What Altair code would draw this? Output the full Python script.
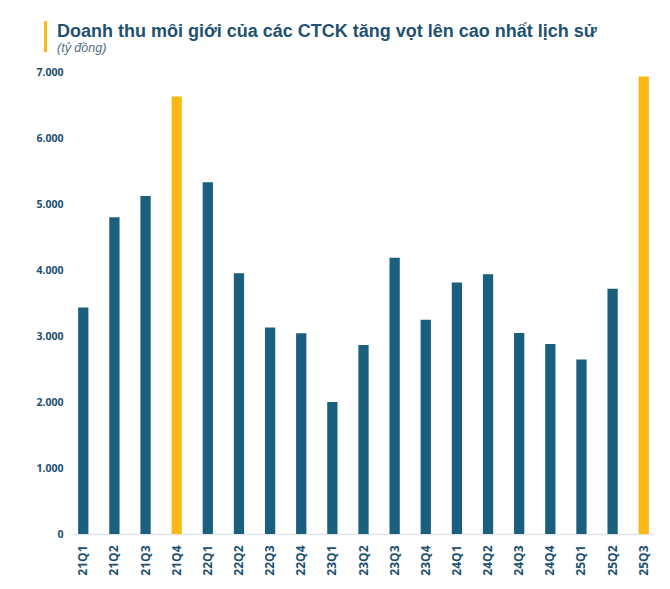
import altair as alt
import pandas as pd

quarters = ["21Q1", "21Q2", "21Q3", "21Q4", "22Q1", "22Q2", "22Q3", "22Q4",
            "23Q1", "23Q2", "23Q3", "23Q4", "24Q1", "24Q2", "24Q3", "24Q4",
            "25Q1", "25Q2", "25Q3"]
revenue = [3430, 4800, 5120, 6630, 5330, 3950, 3130, 3040,
           2000, 2865, 4185, 3245, 3810, 3935, 3045, 2880,
           2645, 3715, 6930]
highlight = ["21Q4", "25Q3"]

BLUE = "#1a5f7e"
YELLOW = "#fdb913"
DARK = "#1d4f6e"

df = pd.DataFrame({"q": quarters, "v": revenue})
df["hl"] = df["q"].isin(highlight).map({True: "hi", False: "lo"})

W, H = 581, 462

bars = alt.Chart(df).mark_bar().encode(
    x=alt.X("q:N", sort=quarters, title=None,
            scale=alt.Scale(paddingInner=0.67, paddingOuter=0.165),
            axis=alt.Axis(labelAngle=270, labelFont="Open Sans", labelFontWeight="bold",
                          labelFontSize=12, labelColor=DARK, labelPadding=11,
                          ticks=False, domainColor="#dfe5ea", domainWidth=1.5,
                          labelBaseline="middle", labelAlign="right")),
    y=alt.Y("v:Q", title=None, scale=alt.Scale(domain=[0, 7000], nice=False),
            axis=alt.Axis(values=[0, 1000, 2000, 3000, 4000, 5000, 6000, 7000],
                          labelExpr="replace(format(datum.value, ',d'), ',', '.')",
                          labelFont="Open Sans", labelFontWeight="bold", labelFontSize=10.5,
                          labelColor=DARK, labelPadding=10, ticks=False, domain=False,
                          grid=False)),
    color=alt.Color("hl:N", scale=alt.Scale(domain=["hi", "lo"], range=[YELLOW, BLUE]),
                    legend=None),
)

accent = alt.Chart(pd.DataFrame({"a": [0]})).mark_rect(color=YELLOW, clip=False).encode(
    x=alt.value(-29), x2=alt.value(-26), y=alt.value(-51), y2=alt.value(-20)
)

chart = alt.layer(accent, bars).properties(
    width=W, height=H,
    view=alt.ViewBackground(stroke="transparent", strokeWidth=0),
    title=alt.Title(
        "Doanh thu môi giới của các CTCK tăng vọt lên cao nhất lịch sử",
        subtitle="(tỷ đồng)",
        anchor="start", frame="group", dx=-16, offset=-33,
        font="Liberation Sans", fontSize=18, fontWeight="bold", color="#1e5270",
        subtitleFont="Liberation Sans", subtitleFontSize=12.5, subtitleFontStyle="italic",
        subtitleColor="#4f6f86", subtitlePadding=1,
    ),
    autosize=alt.AutoSizeParams(type="none"),
    padding={"left": 73, "top": 72, "right": 16, "bottom": 56},
).configure_view(stroke="transparent", strokeWidth=0).configure(background="white")

chart.save("out.html", embed_options={"renderer": "svg", "actions": False})
